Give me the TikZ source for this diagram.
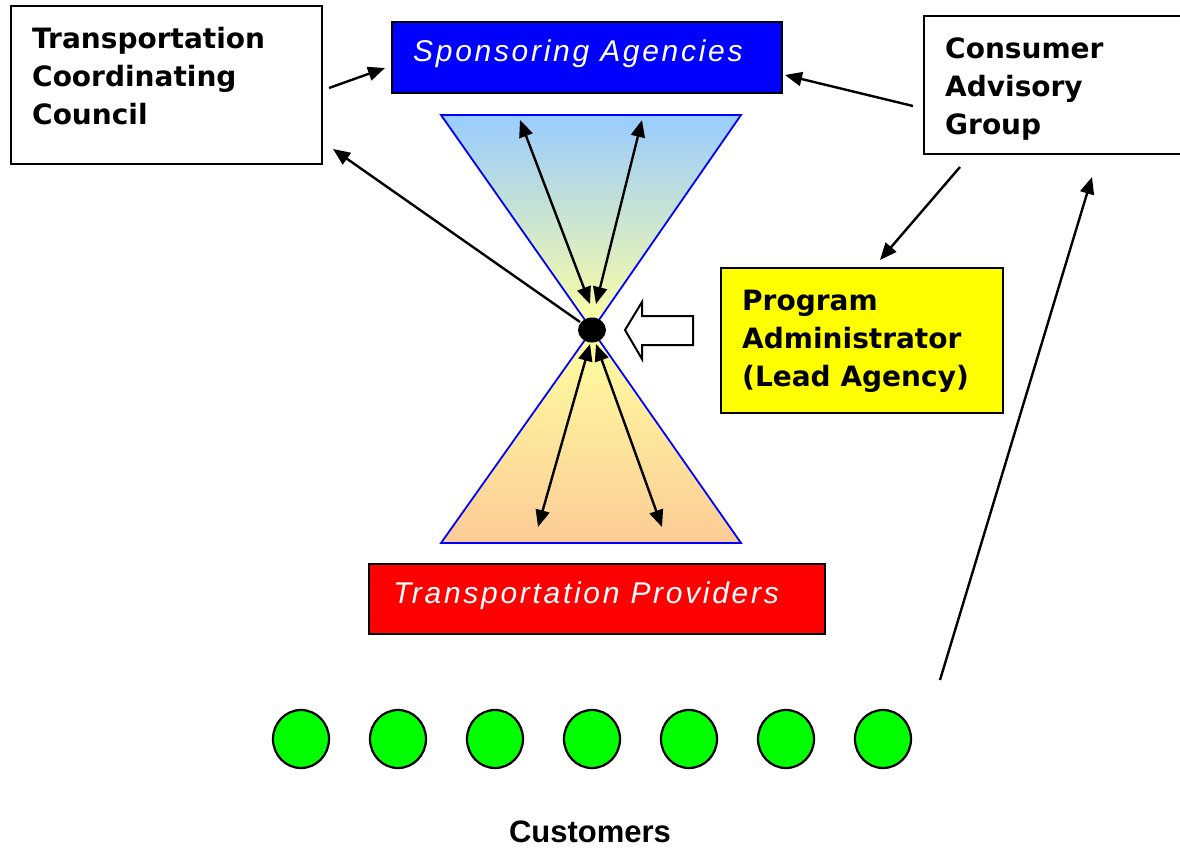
\documentclass[tikz,border=0pt]{standalone}
\usepackage{fontspec}
\setmainfont{DejaVu Sans}
\newfontfamily\arialfont{Liberation Sans}
\newfontfamily\spacedfont[LetterSpace=9]{Liberation Sans}
\usetikzlibrary{arrows.meta,shapes.geometric}
\definecolor{sablue}{RGB}{0,0,255}
\definecolor{tpred}{RGB}{255,0,0}
\definecolor{payellow}{RGB}{255,255,0}
\definecolor{custgreen}{RGB}{0,255,0}
\definecolor{skyb}{RGB}{153,204,255}
\definecolor{paley}{RGB}{255,255,160}
\definecolor{midg}{RGB}{205,228,210}
\definecolor{peach}{RGB}{252,204,150}
\definecolor{midp}{RGB}{255,232,160}
\begin{document}
\begin{tikzpicture}[x=1pt,y=-1pt,
  box/.style={draw=black, line width=2pt, inner sep=0, anchor=north west},
  lbl/.style={font=\fontsize{28}{38}\selectfont\bfseries, align=left, inner sep=0, anchor=north west},
  banner/.style={text=white, font=\spacedfont\itshape\fontsize{30}{36}\selectfont, inner sep=0, anchor=base west},
  arr/.style={line width=2.4pt, -{Triangle[length=17pt,width=14pt]}},
  darr/.style={line width=2.4pt, {Triangle[length=17pt,width=14pt]}-{Triangle[length=17pt,width=14pt]}},
  cust/.style={draw=black, line width=2.2pt, fill=custgreen, ellipse, minimum width=56pt, minimum height=58pt, inner sep=0}
]
\useasboundingbox (0,0) rectangle (1180,848);

% hourglass
\shade[top color=skyb, middle color=midg, bottom color=paley] (441,115) -- (741,115) -- (592,330) -- cycle;
\shade[top color=paley, middle color=midp, bottom color=peach] (592,330) -- (741,543) -- (441,543) -- cycle;
\draw[sablue, line width=1.8pt] (441,115) -- (741,115) -- (592,330) -- cycle;
\draw[sablue, line width=1.8pt] (592,330) -- (741,543) -- (441,543) -- cycle;

% boxes
\node[box, fill=white, minimum width=311pt, minimum height=158pt] (tcc) at (10,5) {};
\node[lbl] (tcct) at (32,26.6) {Transportation\\Coordinating\\Council};

\node[box, fill=sablue, minimum width=390pt, minimum height=71pt] (sa) at (391,21) {};
\node[banner] (sat) at (413,62) {Sponsoring Agencies};

\node[box, fill=white, minimum width=270pt, minimum height=138pt] (cag) at (923,15) {};
\node[lbl] (cagt) at (945,37.6) {Consumer\\Advisory\\Group};

\node[box, fill=payellow, minimum width=282pt, minimum height=145pt] (pa) at (720,267) {};
\node[lbl] (pat) at (742,289.6) {Program\\Administrator\\(Lead Agency)};

\node[box, fill=tpred, minimum width=456pt, minimum height=70pt] (tp) at (368,563) {};
\node[banner] (tpt) at (393,603) {Transportation Providers};

% hub
\node[fill=black, ellipse, minimum width=28pt, minimum height=25pt, inner sep=0] (hub) at (592,330) {};

% block arrow
\draw[line width=2pt, fill=white] (625,330) -- (642,302) -- (642,316) -- (693,316) -- (693,345) -- (642,345) -- (642,359) -- cycle;

% customers
\foreach \i/\x in {1/301,2/398,3/495,4/592,5/689,6/786,7/883}
  \node[cust] (c\i) at (\x,739) {};
\node[anchor=base, inner sep=0, font=\arialfont\bfseries\fontsize{31}{36}\selectfont] (custt) at (590,842) {Customers};

% connector end points
\coordinate (tccA) at (329,88);
\coordinate (saL) at (385,68);
\coordinate (cagA) at (913,106);
\coordinate (saR) at (785,75);
\coordinate (cagB) at (960,167);
\coordinate (paT) at (880,260);
\coordinate (hubW) at (580,322);
\coordinate (tccB) at (333,149);
\coordinate (custR) at (940,680);
\coordinate (cagC) at (1092,177);
\coordinate (u1) at (520,120);
\coordinate (u2) at (642,120);
\coordinate (h1) at (590,304);
\coordinate (h2) at (596,304);
\coordinate (h3) at (590,344);
\coordinate (h4) at (596,344);
\coordinate (l1) at (538,527);
\coordinate (l2) at (662,527);

\draw[arr] (tccA) -- (saL);
\draw[arr] (cagA) -- (saR);
\draw[arr] (cagB) -- (paT);
\draw[arr] (hubW) -- (tccB);
\draw[arr] (custR) -- (cagC);
\draw[darr] (u1) -- (h1);
\draw[darr] (u2) -- (h2);
\draw[darr] (h3) -- (l1);
\draw[darr] (h4) -- (l2);
\end{tikzpicture}
\end{document}
